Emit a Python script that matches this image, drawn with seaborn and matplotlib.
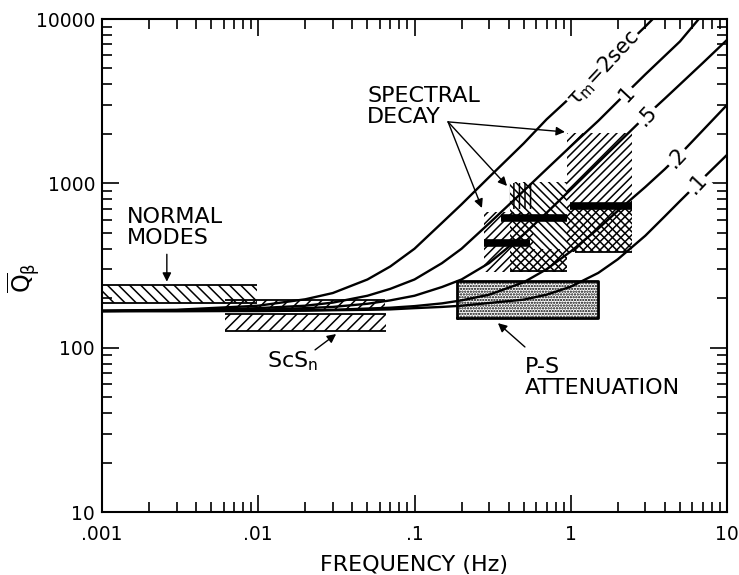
import numpy as np
import pandas as pd
import matplotlib
matplotlib.use("Agg")
import matplotlib.pyplot as plt
import seaborn as sns

# Q_beta vs frequency curves (Hz, Q)
freq_2s = [0.001, 0.003, 0.01, 0.02, 0.03, 0.05, 0.07, 0.1, 0.15, 0.2, 0.3, 0.5, 0.7, 1, 1.5, 2, 3, 3.35]
q_2s = [168, 170, 180, 197, 215, 260, 312, 400, 575, 745, 1090, 1750, 2450, 3350, 4900, 6200, 9000, 10000]
freq_1s = [0.001, 0.003, 0.01, 0.02, 0.03, 0.05, 0.07, 0.1, 0.15, 0.2, 0.3, 0.5, 0.7, 1, 1.5, 2, 3, 5, 6.6]
q_1s = [167, 169, 174, 180, 188, 207, 228, 260, 327, 400, 570, 900, 1220, 1680, 2400, 3150, 4600, 7300, 10000]
freq = [0.001, 0.003, 0.01, 0.02, 0.03, 0.05, 0.07, 0.1, 0.15, 0.2, 0.3, 0.5, 0.7, 1, 1.5, 2, 3, 4, 5, 7, 10]
q_05s = [167, 168, 170, 174, 177, 185, 194, 207, 234, 260, 327, 489, 661, 918, 1340, 1750, 2550, 3280, 4000, 5400, 7460]
q_02s = [167, 167, 168, 169, 170, 173, 175, 179, 186, 194, 210, 250, 300, 385, 530, 680, 950, 1220, 1500, 2100, 3000]
q_01s = [167, 167, 167, 168, 169, 170, 171, 174, 177, 180, 187, 196, 210, 235, 285, 345, 480, 630, 780, 1070, 1490]

curve_names = [r"$\tau_m$=2sec", "1", ".5", ".2", ".1"]
# where each curve label sits (Hz, Q)
label_f = [1.61, 2.29, 3.08, 4.79, 6.43]
label_q = [5030, 3500, 2580, 1440, 990]

# observation boxes (f_lo, f_hi, q_lo, q_hi)
normal_modes = (0.001, 0.0098, 186, 241)
scs_upper = (0.0061, 0.065, 170, 195)
scs_lower = (0.0061, 0.066, 127, 160)
ps_box = (0.187, 1.49, 152, 255)
# spectral decay pieces
sd_boxes = [
    (0.28, 0.57, 289, 670, "////"),
    (0.57, 0.94, 289, 400, "////"),
    (0.41, 0.94, 289, 1020, "\\\\\\\\"),
    (0.94, 2.48, 380, 2020, "////"),
    (0.94, 2.48, 380, 720, "\\\\\\\\"),
    (0.40, 0.57, 700, 1000, "|||"),
]
sd_bars_f0 = [0.28, 0.36, 0.99]
sd_bars_f1 = [0.55, 0.94, 2.48]
sd_bars_q = [434, 615, 728]

sns.set_theme(style="ticks")
plt.rcParams["font.family"] = ["DejaVu Sans"]
plt.rcParams["hatch.linewidth"] = 1.1
plt.rcParams["mathtext.default"] = "regular"
for k in ["text.color", "axes.labelcolor", "xtick.color", "ytick.color", "axes.edgecolor"]:
    plt.rcParams[k] = "black"

fig = plt.figure(figsize=(7.39, 5.75), dpi=100)
ax = fig.add_axes([102 / 739, 1 - 512 / 575, 625 / 739, 493 / 575])
ax.set_xscale("log")
ax.set_yscale("log")

rows = []
for name, fs, qs in zip(curve_names,
                        [freq_2s, freq_1s, freq, freq, freq],
                        [q_2s, q_1s, q_05s, q_02s, q_01s]):
    for f, q in zip(fs, qs):
        rows.append({"tau": name, "freq": f, "Q": q})
df = pd.DataFrame(rows)
sns.lineplot(data=df, x="freq", y="Q", units="tau", estimator=None,
             color="black", lw=1.7, ax=ax, legend=False, zorder=3)

def box(b, hatch, lines=(True, True), lw=1.3):
    f0, f1, q0, q1 = b[:4]
    ax.fill_between([f0, f1], [q0, q0], [q1, q1], facecolor="none",
                    edgecolor="black", hatch=hatch, linewidth=0, zorder=2)
    if lines[0]:
        ax.hlines(q0, f0, f1, color="black", lw=lw, zorder=2)
    if lines[1]:
        ax.hlines(q1, f0, f1, color="black", lw=lw, zorder=2)

box(normal_modes, "\\\\\\")
box(scs_upper, "///", lines=(False, True))
box(scs_lower, "///", lines=(False, True))
ax.hlines(scs_lower[2], scs_lower[0], scs_lower[1], color="black", lw=1.3)

for f0, f1, q0, q1, h in sd_boxes:
    ax.fill_between([f0, f1], [q0, q0], [q1, q1], facecolor="none",
                    edgecolor="black", hatch=h, linewidth=0, zorder=2)
ax.hlines(293, 0.41, 0.94, color="black", lw=1.3)
ax.hlines(380, 1.07, 2.48, color="black", lw=1.3)
ax.hlines(sd_bars_q, sd_bars_f0, sd_bars_f1, color="black", lw=5.5, zorder=4)

f0, f1, q0, q1 = ps_box
ax.fill_between([f0, f1], [q0, q0], [q1, q1], facecolor="white",
                edgecolor="black", hatch="......", linewidth=0, zorder=2)
ax.plot([f0, f1, f1, f0, f0], [q0, q0, q1, q1, q0], color="black", lw=2, zorder=4)

for name, f, q in zip(curve_names, label_f, label_q):
    ax.text(f, q, name, rotation=47, ha="center", va="center", fontsize=15,
            rotation_mode="anchor", zorder=5,
            bbox=dict(facecolor="white", edgecolor="none", pad=1.0))

arrow = dict(arrowstyle="-|>", color="black", lw=1.0, mutation_scale=13,
             shrinkA=0, shrinkB=0)
ax.text(0.00145, 718, "NORMAL\nMODES", fontsize=16, ha="left", va="top",
        linespacing=1.05)
ax.annotate("", xy=(0.0026, 252), xytext=(0.0026, 370), arrowprops=arrow)

ax.text(0.0114, 76, r"ScS$_\mathregular{n}$", fontsize=16, ha="left", va="baseline")
ax.annotate("", xy=(0.0315, 121), xytext=(0.0231, 97), arrowprops=arrow)

ax.text(0.509, 88, "P-S\nATTENUATION", fontsize=16, ha="left", va="top",
        linespacing=1.1)
ax.annotate("", xy=(0.342, 141), xytext=(0.509, 101), arrowprops=arrow)

ax.text(0.0497, 3920, "SPECTRAL\nDECAY", fontsize=16, ha="left", va="top",
        linespacing=1.05)
for tip in [(0.918, 2055), (0.270, 708), (0.391, 964)]:
    ax.annotate("", xy=tip, xytext=(0.164, 2366), arrowprops=arrow)

ax.set_xlim(0.001, 10)
ax.set_ylim(10, 10000)
ax.set_xticks([0.001, 0.01, 0.1, 1, 10])
ax.set_xticklabels([".001", ".01", ".1", "1", "10"])
ax.set_yticks([10, 100, 1000, 10000])
ax.set_yticklabels(["10", "100", "1000", "10000"])
ax.tick_params(which="both", direction="in", top=True, right=True, width=1.2,
               labelsize=13.5)
ax.tick_params(which="major", length=12)
ax.tick_params(which="minor", length=7)
ax.tick_params(axis="x", which="major", pad=9)
ax.tick_params(axis="y", which="major", pad=5)
for s in ax.spines.values():
    s.set_linewidth(1.5)
    s.set_color("black")

ax.set_xlabel("FREQUENCY (Hz)", fontsize=16, labelpad=8)
ax.set_ylabel("")
ax.text(-0.125, 0.475, r"$\overline{Q}_\beta$", transform=ax.transAxes,
        rotation=90, fontsize=17, ha="center", va="center")

fig.savefig("out.png", dpi=100)
